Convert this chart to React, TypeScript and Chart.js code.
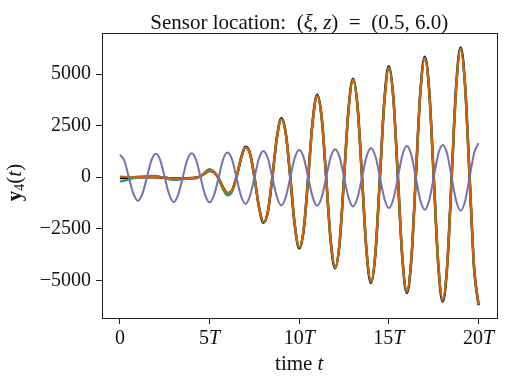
import React, { useEffect, useRef } from "react";
import { Chart, registerables } from "chart.js";

Chart.register(...registerables);

// ---- data (time in units of T, sampled every quarter of T) ----
const TIME_STEP = 0.25;

const blackTruth = [
  -40, -30, -15, -5, 0, 0, 0, 0, 0, -10, -30, -50, -60, -60, -60, -55, -45, -20, 50, 200,
  300, 240, -60, -500, -780, -650, 0, 900, 1470, 1160, 0, -1420, -2210, -1680, 0, 1900, 2850, 2120, 0, -2330,
  -3450, -2540, 0, 2730, 3990, 2900, 0, -3060, -4420, -3200, 0, 3310, 4770, 3440, 0, -3570, -5130, -3670, 0, 3760,
  5370, 3830, 0, -3920, -5610, -4000, 0, 4080, 5840, 4160, 0, -4220, -6030, -4300, 0, 4400, 6290, 4430, 0, -4400,
  -6210,
];

const greenModel = [
  -210, -170, -110, -50, 0, 30, 55, 65, 60, 20, -40, -110, -130, -120, -100, -85, -80, -60, 40, 250,
  390, 280, -80, -590, -890, -720, -20, 870, 1440, 1150, 0, -1410, -2190, -1660, 0, 1880, 2820, 2100, 0, -2310,
  -3420, -2510, 0, 2700, 3950, 2870, 0, -3030, -4400, -3170, 0, 3290, 4740, 3410, 0, -3540, -5100, -3640, 0, 3720,
  5320, 3800, 0, -3900, -5580, -3980, 0, 4060, 5800, 4130, 0, -4190, -5990, -4270, 0, 4360, 6240, 4400, 0, -4380,
  -6180,
];

const orangeModel = [
  30, 20, 10, 5, 0, 0, 0, 0, 0, -10, -30, -50, -60, -60, -60, -55, -45, -20, 50, 200,
  300, 240, -60, -490, -760, -640, 0, 890, 1420, 1140, 0, -1400, -2170, -1650, 0, 1870, 2800, 2090, 0, -2300,
  -3400, -2500, 0, 2690, 3930, 2860, 0, -3020, -4380, -3160, 0, 3280, 4720, 3400, 0, -3530, -5080, -3630, 0, 3710,
  5300, 3790, 0, -3890, -5560, -3970, 0, 4050, 5780, 4120, 0, -4180, -5960, -4260, 0, 4350, 6220, 4390, 0, -4370,
  -6160,
];

const purpleModel = [
  1100, 787, -20, -804, -1150, -810, -20, 802, 1130, 813, -20, -841, -1210, -847, -20, 829, 1160, 832, -20, -857,
  -1230, -863, -20, 848, 1190, 861, -20, -900, -1300, -914, -20, 903, 1270, 916, -20, -951, -1370, -960, -20, 942,
  1320, 946, -20, -970, -1390, -977, -20, 965, 1356, 970, -20, -993, -1420, -1001, -20, 996, 1405, 1010, -20, -1044,
  -1500, -1062, -20, 1066, 1510, 1080, -20, -1105, -1580, -1114, -20, 1109, 1565, 1118, -20, -1141, -1630, -1156, -20, 1163,
  1650,
];

const xTickValues = [0, 5, 10, 15, 20];
const xTickNumbers = ["0", "5", "10", "15", "20"];
const yTickValues = [-5000, -2500, 0, 2500, 5000];

const SERIF = "'Liberation Serif', 'DejaVu Serif', serif";
const TEXT_COLOR = "#111111";
const SPINE_COLOR = "#222222";

type Run = { text: string; font: string; dy?: number };

function f(size: number, style = "normal", weight = "normal") {
  return `${style} ${weight} ${size}px ${SERIF}`;
}

function runsWidth(ctx: CanvasRenderingContext2D, runs: Run[]) {
  let w = 0;
  for (const r of runs) {
    ctx.font = r.font;
    w += ctx.measureText(r.text).width;
  }
  return w;
}

function drawRuns(ctx: CanvasRenderingContext2D, runs: Run[], x: number, y: number, align: "left" | "center" | "right") {
  const w = runsWidth(ctx, runs);
  let cx = align === "center" ? x - w / 2 : align === "right" ? x - w : x;
  ctx.textAlign = "left";
  ctx.textBaseline = "alphabetic";
  for (const r of runs) {
    ctx.font = r.font;
    ctx.fillText(r.text, cx, y + (r.dy || 0));
    cx += ctx.measureText(r.text).width;
  }
}

const toPoints = (vals: number[]) => vals.map((v, i) => ({ x: i * TIME_STEP, y: v }));

const textPlugin = {
  id: "mathText",
  afterDraw(chart: any) {
    const ctx: CanvasRenderingContext2D = chart.ctx;
    const { left, right, top, bottom } = chart.chartArea;
    ctx.save();
    // box spines
    ctx.strokeStyle = SPINE_COLOR;
    ctx.lineWidth = 1;
    ctx.strokeRect(Math.round(left) + 0.5, Math.round(top) + 0.5, Math.round(right) - Math.round(left), Math.round(bottom) - Math.round(top));

    ctx.fillStyle = TEXT_COLOR;
    const ts = 21;
    const ls = 21;
    const ks = 20;
    // title
    const cx = (left + right) / 2;
    drawRuns(
      ctx,
      [
        { text: "Sensor location:  (", font: f(ts) },
        { text: "ξ", font: f(ts, "italic") },
        { text: ", ", font: f(ts) },
        { text: "z", font: f(ts, "italic") },
        { text: ")  =  (0.5, 6.0)", font: f(ts) },
      ],
      cx,
      28.5,
      "center"
    );

    // x tick labels
    const xs = chart.scales.x;
    xTickValues.forEach((v, i) => {
      const px = xs.getPixelForValue(v);
      const runs: Run[] = [{ text: xTickNumbers[i], font: f(ks) }];
      if (v !== 0) runs.push({ text: "T", font: f(ks, "italic") });
      drawRuns(ctx, runs, px, 344, "center");
    });

    // x axis label
    drawRuns(
      ctx,
      [
        { text: "time ", font: f(ls) },
        { text: "t", font: f(ls, "italic") },
      ],
      cx,
      369.5,
      "center"
    );

    // y axis label
    ctx.translate(20.5, 182.5);
    ctx.rotate(-Math.PI / 2);
    drawRuns(
      ctx,
      [
        { text: "y", font: f(ls, "normal", "bold") },
        { text: "4", font: f(14), dy: 3.5 },
        { text: "(", font: f(ls) },
        { text: "t", font: f(ls, "italic") },
        { text: ")", font: f(ls) },
      ],
      0,
      0,
      "center"
    );
    ctx.restore();
  },
};

export default function App() {
  const ref = useRef<HTMLCanvasElement | null>(null);

  useEffect(() => {
    const canvas = ref.current;
    if (!canvas) return;
    const line = (label: string, vals: number[], color: string, width: number) => ({
      label,
      data: toPoints(vals),
      borderColor: color,
      backgroundColor: color,
      borderWidth: width,
      pointRadius: 0,
      fill: false,
      cubicInterpolationMode: "monotone" as const,
    });
    const chart = new Chart(canvas, {
      type: "line",
      data: {
        datasets: [
          line("purple", purpleModel, "#7570b3", 2),
          line("orange", orangeModel, "#d95f02", 2.2),
          line("green", greenModel, "#1b9e77", 2.2),
          line("truth", blackTruth, "#000000", 2.6),
        ],
      },
      options: {
        animation: false,
        responsive: false,
        devicePixelRatio: 1,
        layout: { padding: { top: 33, right: 12.5, bottom: 0, left: 0 } },
        plugins: {
          legend: { display: false },
          tooltip: { enabled: false },
          title: { display: false },
        },
        scales: {
          x: {
            type: "linear",
            min: -1,
            max: 21,
            afterFit: (s: any) => {
              s.height = 67;
            },
            afterBuildTicks: (s: any) => {
              s.ticks = xTickValues.map((v) => ({ value: v }));
            },
            ticks: { display: false, autoSkip: false },
            grid: { display: true, drawOnChartArea: false, drawTicks: true, tickLength: 6, color: SPINE_COLOR, lineWidth: 1 },
            border: { display: false },
          },
          y: {
            type: "linear",
            min: -6830,
            max: 6990,
            afterFit: (s: any) => {
              s.width = 102;
            },
            afterBuildTicks: (s: any) => {
              s.ticks = yTickValues.map((v) => ({ value: v }));
            },
            ticks: {
              autoSkip: false,
              padding: 5,
              color: TEXT_COLOR,
              font: { family: SERIF, size: 20 },
              callback: (v: any) => (Number(v) < 0 ? "\u2212" + Math.abs(Number(v)) : String(v)),
            },
            grid: { display: true, drawOnChartArea: false, drawTicks: true, tickLength: 6, color: SPINE_COLOR, lineWidth: 1 },
            border: { display: false },
          },
        },
      },
      plugins: [textPlugin],
    });
    return () => chart.destroy();
  }, []);

  return (
    <div style={{ position: "fixed", left: 0, top: 0, width: 509, height: 385, background: "#fff" }}>
      <canvas ref={ref} width={509} height={385} style={{ display: "block" }} />
    </div>
  );
}
